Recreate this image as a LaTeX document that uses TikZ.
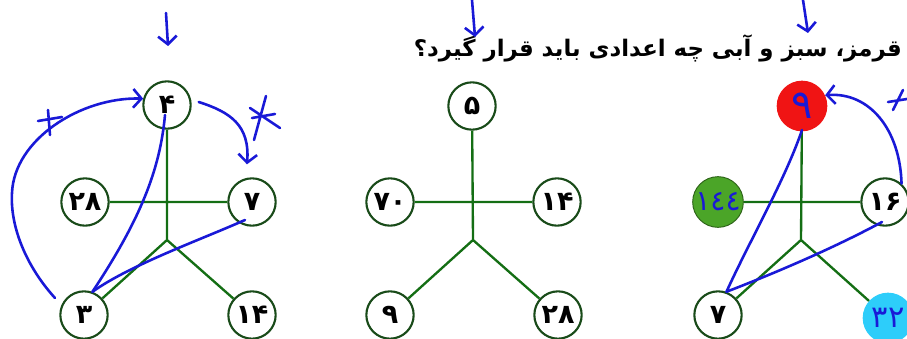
\documentclass[tikz,border=0pt]{standalone}
\usepackage{fontspec}
\newfontfamily\arabicfont[Script=Arabic]{DejaVu Sans}
\TeXXeTstate=1
\usetikzlibrary{arrows.meta,calc}
\definecolor{stemgreen}{RGB}{20,110,20}
\definecolor{ringgreen}{RGB}{25,75,25}
\definecolor{inkblue}{RGB}{25,25,215}
\definecolor{fillred}{RGB}{240,20,20}
\definecolor{fillgreen}{RGB}{75,165,40}
\definecolor{fillcyan}{RGB}{45,205,250}

\begin{document}
\begin{tikzpicture}[
    x=0.03cm, y=-0.03cm,
    num/.style={circle, draw=ringgreen, line width=1.8pt, minimum size=1.42cm, inner sep=0pt, fill=white, font=\arabicfont\bfseries\fontsize{23}{23}\selectfont},
    blob/.style={circle, minimum size=1.52cm, inner sep=0pt, fill=#1, text=inkblue},
    stem/.style={draw=stemgreen, line width=2pt},
    ink/.style={draw=inkblue, line width=2.2pt, line cap=round},
    hand/.style={-{Straight Barb[length=7pt,width=16pt]}}
]
    \useasboundingbox (0,0) rectangle (907,338);

    % Question line (cut at the right edge)
    \node[anchor=base east, inner sep=0pt, font=\arabicfont\bfseries\fontsize{19.5}{20}\selectfont] (question) at (902,57) {\beginR قرمز، سبز و آبی چه اعدادی باید قرار گیرد؟\endR};

    % Figure 1
    \node[num] (t1)  at (167,105) {۴};
    \node[num] (l1)  at (85,202)  {۲۸};
    \node[num] (r1)  at (252,202) {۷};
    \node[num] (bl1) at (84,315)  {۳};
    \node[num] (br1) at (252,315) {۱۴};
    \coordinate (j1) at (167,240);

    % Figure 2
    \node[num] (t2)  at (472,106) {۵};
    \node[num] (l2)  at (390,202) {۷۰};
    \node[num] (r2)  at (557,202) {۱۴};
    \node[num] (bl2) at (390,315) {۹};
    \node[num] (br2) at (558,315) {۲۸};
    \coordinate (j2) at (473,240);

    % Figure 3 (coloured circles filled in by hand)
    \node[blob=fillred, font=\arabicfont\fontsize{34}{34}\selectfont] (t3) at (802,106) {۹};
    \node[blob=fillgreen, draw=fillgreen!60!black, line width=0.8pt, font=\arabicfont\fontsize{24}{24}\selectfont] (l3) at (718,202) {١٤٤};
    \node[num] (r3)  at (885,202) {۱۶};
    \node[num] (bl3) at (718,315) {۷};
    \node[blob=fillcyan, font=\arabicfont\fontsize{26}{26}\selectfont] (br3) at (888,318) {۳۲};
    \coordinate (j3) at (801,240);

    % Stems
    \foreach \f in {1,2,3} {
        \draw[stem] (t\f) -- (j\f) (l\f) -- (r\f) (j\f) -- (bl\f) (j\f) -- (br\f);
    }

    % Hand-drawn marks, figure 1
    \coordinate (d1a) at (166,13);
    \coordinate (d1b) at (168,46);
    \draw[ink, hand] (d1a) -- (d1b);
    \coordinate (a1) at (55,298);
    \draw[ink, hand] (a1) .. controls (25,265) and (10,225) .. (12,193)
        .. controls (14,140) and (80,97) .. (t1.165);
    \draw[ink] (38,121) -- (62,117) (48,110) -- (50,135);
    \draw[ink, hand] ($(t1.east)+(7,-3)$) .. controls (230,112) and (250,125) .. ($(r1.north)+(-5,-13)$);
    \draw[ink] (266,96) -- (254,140) (250,108) -- (280,128) (252,118) -- (275,114);
    \draw[ink] (bl1.70) .. controls (140,220) and (160,170) .. ($(t1)+(-2,10)$);
    \draw[ink] (bl1.70) .. controls (130,265) and (200,240) .. ($(r1)+(-7,18)$);

    % Hand-drawn marks, figure 2
    \coordinate (d2a) at (472,0);
    \coordinate (d2b) at (475,37);
    \draw[ink, hand] (d2a) -- (d2b);

    % Hand-drawn marks, figure 3
    \coordinate (d3a) at (803,0);
    \coordinate (d3b) at (808,33);
    \draw[ink, hand] (d3a) -- (d3b);
    \draw[ink, hand] (r3.48) .. controls (900,130) and (870,92) .. (t3.25);
    \draw[ink] (888,102) -- (907,99) (893,110) -- (903,90);
    \draw[ink] (bl3.70) .. controls (750,240) and (785,180) .. ($(t3)+(0,24)$);
    \draw[ink] (bl3.70) .. controls (770,275) and (830,250) .. ($(r3)+(-3,20)$);
\end{tikzpicture}
\end{document}
